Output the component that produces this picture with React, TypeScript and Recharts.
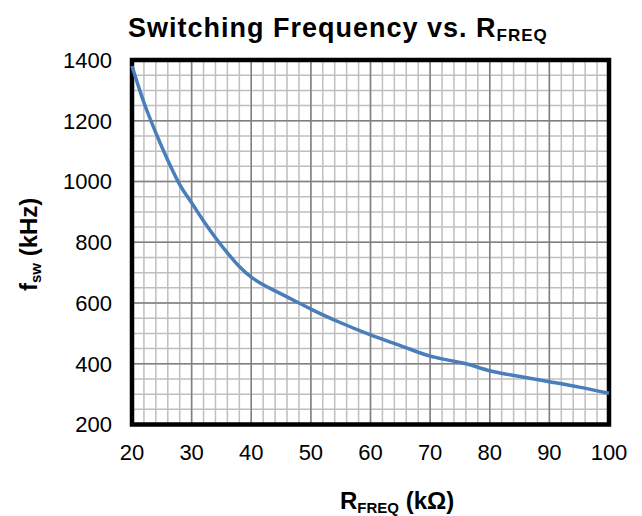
import React from 'react';
import { LineChart, Line, XAxis, YAxis, CartesianGrid, ReferenceArea } from 'recharts';

const rfreq = [20, 22, 24, 26, 28, 30, 32, 34, 36, 38, 40, 42, 44, 46, 48, 50, 55, 60, 65, 70, 73, 76, 80, 83, 86, 90, 95, 100];
const fsw = [1380, 1260, 1160, 1070, 990, 930, 870, 815, 765, 720, 685, 660, 640, 620, 600, 580, 535, 495, 460, 425, 412, 400, 377, 365, 355, 341, 323, 303];

const xTicks = [20, 30, 40, 50, 60, 70, 80, 90, 100];
const yTicks = [200, 400, 600, 800, 1000, 1200, 1400];
const xMinorTicks = [20, 22, 24, 26, 28, 30, 32, 34, 36, 38, 40, 42, 44, 46, 48, 50, 52, 54, 56, 58, 60, 62, 64, 66, 68, 70, 72, 74, 76, 78, 80, 82, 84, 86, 88, 90, 92, 94, 96, 98, 100];
const yMinorTicks = [200, 250, 300, 350, 400, 450, 500, 550, 600, 650, 700, 750, 800, 850, 900, 950, 1000, 1050, 1100, 1150, 1200, 1250, 1300, 1350, 1400];

const data = rfreq.map((r, i) => ({ r, f: fsw[i] }));

const FONT = '"Liberation Sans", Arial, sans-serif';

// minor horizontal lines through the y axis scale
const minorRows = ({ yAxis, offset }: any) => {
  if (yAxis && typeof yAxis.scale === 'function') {
    return yMinorTicks.map((v) => yAxis.scale(v));
  }
  return yMinorTicks.map((v) => offset.top + (offset.height * (1400 - v)) / 1200);
};

export default function App() {
  return (
    <div style={{ position: 'absolute', left: 0, top: 0, width: 642, height: 516, background: '#fff', fontFamily: FONT }}>
      <LineChart width={642} height={516} data={data} margin={{ top: 60, right: 33, bottom: 0, left: 0 }}>
        <XAxis xAxisId="minor" dataKey="r" type="number" domain={[20, 100]} ticks={xMinorTicks} interval={0} hide />
        <CartesianGrid xAxisId="minor" horizontalCoordinatesGenerator={minorRows} stroke="#bfbfbf" strokeWidth={1.5} />
        <XAxis
          dataKey="r"
          type="number"
          domain={[20, 100]}
          ticks={xTicks}
          interval={0}
          axisLine={false}
          tickLine={false}
          tickMargin={14}
          height={91.5}
          tick={{ fontSize: 22, fill: '#000', fontFamily: FONT }}
        />
        <YAxis
          type="number"
          domain={[200, 1400]}
          ticks={yTicks}
          interval={0}
          axisLine={false}
          tickLine={false}
          tickMargin={14}
          width={132}
          tick={{ fontSize: 22, fill: '#000', fontFamily: FONT }}
        />
        <CartesianGrid stroke="#808080" strokeWidth={1.5} />
        <Line
          dataKey="f"
          type="monotone"
          stroke="#4a7ebb"
          strokeWidth={3.5}
          dot={false}
          isAnimationActive={false}
        />
        <ReferenceArea x1={20} x2={100} y1={200} y2={1400} fill="none" stroke="#000" strokeWidth={4.5} ifOverflow="visible" />
      </LineChart>
      <svg width={642} height={516} style={{ position: 'absolute', left: 0, top: 0, pointerEvents: 'none' }}>
        <text x={128} y={37} fontSize={27} fontWeight="bold" fontFamily={FONT} fill="#000" letterSpacing={1}>
          Switching Frequency vs. R<tspan fontSize={17} dy={4}>FREQ</tspan>
        </text>
        <text x={340} y={509} fontSize={24} fontWeight="bold" fontFamily={FONT} fill="#000">
          R<tspan fontSize={15} dy={4}>FREQ</tspan>
          <tspan dy={-4}> (kΩ)</tspan>
        </text>
        <text
          transform="translate(37,291) rotate(-90)"
          x={0}
          y={0}
          fontSize={24}
          fontWeight="bold"
          fontFamily={FONT}
          fill="#000"
        >
          f<tspan fontSize={15} dy={4}>sw</tspan>
          <tspan dy={-4}> (kHz)</tspan>
        </text>
      </svg>
    </div>
  );
}
